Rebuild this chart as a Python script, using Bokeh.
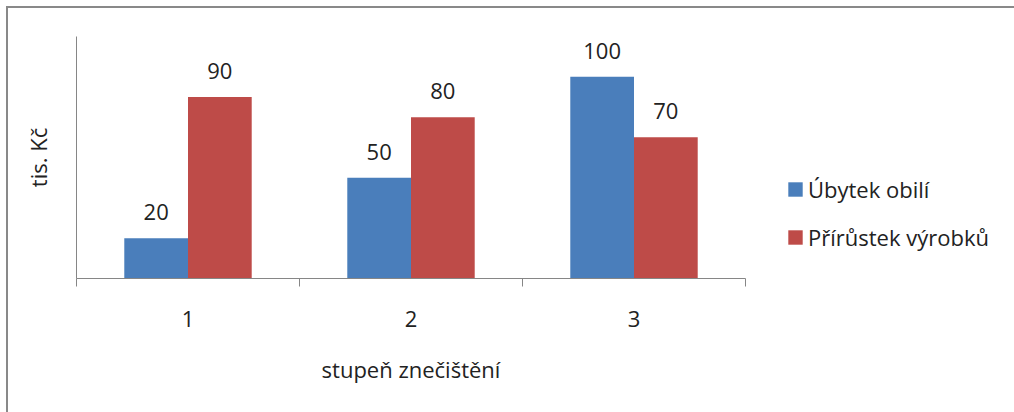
import numpy as np
from bokeh.plotting import figure
from bokeh.models import (ColumnDataSource, Range1d, FixedTicker, LabelSet,
                          Legend, LegendItem)
from bokeh.core.properties import value
from bokeh.embed import file_html
from bokeh.resources import INLINE

categories = ["1", "2", "3"]
ubytek = [20, 50, 100]
prirustek = [90, 80, 70]
series_names = ["Úbytek obilí", "Přírůstek výrobků"]
colors = ["#4a7ebb", "#be4b48"]

FONT = "Open Sans"
TXT = "#222222"
AX = "#868686"

idx = np.arange(len(categories)) + 0.5
bw = 1.0 / 3.5
src1 = ColumnDataSource(dict(x=idx - bw / 2, y=ubytek, t=[str(v) for v in ubytek]))
src2 = ColumnDataSource(dict(x=idx + bw / 2, y=prirustek, t=[str(v) for v in prirustek]))

p = figure(frame_width=669, frame_height=242, output_backend="svg", toolbar_location=None,
           x_range=Range1d(0, len(categories)), y_range=Range1d(0, 120),
           min_border_left=68, min_border_right=269, min_border_top=28,
           min_border_bottom=134)
p.styles = {"border-left": "2px solid #898989", "border-top": "2px solid #898989",
            "margin-left": "6px", "margin-top": "6px"}
p.outline_line_color = None
p.xgrid.visible = False
p.ygrid.visible = False

r1 = p.vbar(x="x", top="y", width=bw, bottom=0, source=src1, fill_color=colors[0], line_color=None)
r2 = p.vbar(x="x", top="y", width=bw, bottom=0, source=src2, fill_color=colors[1], line_color=None)

for s in (src1, src2):
    p.add_layout(LabelSet(x="x", y="y", text="t", source=s, y_offset=18,
                          text_align="center", text_baseline="alphabetic",
                          text_font=value(FONT), text_font_size=value("22px"),
                          text_color=TXT))

xa = p.xaxis[0]
xa.ticker = FixedTicker(ticks=list(idx), minor_ticks=list(range(len(categories) + 1)))
xa.major_label_overrides = {float(i): c for i, c in zip(idx, categories)}
xa.major_tick_line_color = None
xa.major_tick_in = 0
xa.major_tick_out = 0
xa.minor_tick_in = 0
xa.minor_tick_out = 8
xa.minor_tick_line_color = AX
xa.axis_line_color = AX
xa.major_label_standoff = 24
xa.major_label_text_font = FONT
xa.major_label_text_font_size = "22px"
xa.major_label_text_color = TXT
xa.axis_label = "stupeň znečištění"
xa.axis_label_text_font = FONT
xa.axis_label_text_font_size = "22px"
xa.axis_label_text_font_style = "normal"
xa.axis_label_text_color = TXT
xa.axis_label_standoff = 24

ya = p.yaxis[0]
ya.ticker = FixedTicker(ticks=[])
ya.major_tick_line_color = None
ya.minor_tick_line_color = None
ya.axis_line_color = AX
ya.major_label_text_font_size = "0px"
ya.axis_label = "tis. Kč"
ya.axis_label_text_font = FONT
ya.axis_label_text_font_size = "22px"
ya.axis_label_text_font_style = "normal"
ya.axis_label_text_color = TXT
ya.axis_label_standoff = 24

legend = Legend(items=[LegendItem(label=series_names[0], renderers=[r1]),
                       LegendItem(label=series_names[1], renderers=[r2])],
                location=(41, 26), orientation="vertical")
legend.glyph_width = 18
legend.glyph_height = 18
legend.label_height = 30
legend.label_standoff = 4
legend.spacing = 18
legend.padding = 0
legend.margin = 0
legend.border_line_color = None
legend.background_fill_alpha = 0
legend.label_text_font = FONT
legend.label_text_font_size = "22px"
legend.label_text_color = TXT
p.add_layout(legend, "right")

open("out.html", "w").write(file_html(p, INLINE))
